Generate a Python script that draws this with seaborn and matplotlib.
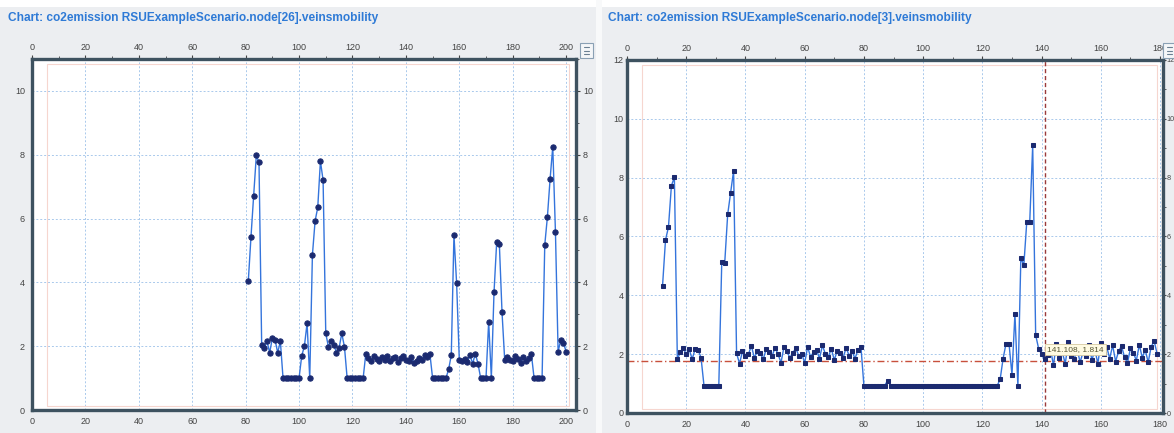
import numpy as np
import pandas as pd
import matplotlib
matplotlib.use("Agg")
import matplotlib.pyplot as plt
from matplotlib.patches import Rectangle
from matplotlib.ticker import MultipleLocator
import seaborn as sns

# node[26]: one sample per second, starting at t=81
left_start = 81
left_co2 = [
    4.05, 5.43, 6.72, 7.98, 7.76,
    2.05, 1.95, 2.15, 1.80, 2.25, 2.20, 1.80, 2.15,
    1.00, 1.00, 1.00, 1.00, 1.00, 1.00, 1.00,
    1.70, 2.00, 2.72, 1.00, 4.86, 5.92, 6.35, 7.80, 7.20,
    2.40, 1.98, 2.15, 2.05, 1.80, 1.95, 2.40, 1.98,
    1.00, 1.00, 1.00, 1.00, 1.00, 1.00, 1.00,
    1.77,
    1.62, 1.55, 1.68, 1.60, 1.52, 1.65, 1.58, 1.70, 1.55, 1.62, 1.66, 1.50,
    1.64, 1.70, 1.58, 1.55, 1.67, 1.48, 1.52, 1.63, 1.58, 1.72, 1.66, 1.75,
    1.00, 1.00, 1.00, 1.00, 1.00, 1.00,
    1.27, 1.72, 5.48, 3.97, 1.57,
    1.55, 1.60, 1.50, 1.72, 1.45, 1.77, 1.45,
    1.00, 1.00, 1.00,
    2.77, 1.00, 3.69, 5.26, 5.20, 3.06, 1.57,
    1.65, 1.58, 1.52, 1.70, 1.60, 1.48, 1.66, 1.55, 1.62, 1.75,
    1.00, 1.00, 1.00, 1.00,
    5.17, 6.06, 7.24, 8.25, 5.59, 1.83, 2.19, 2.10, 1.83,
]

# node[3]: one sample per second, starting at t=12
right_start = 12
right_co2 = [
    4.32, 5.88, 6.32, 7.73, 8.01,
    1.83, 2.06, 2.20, 2.00, 2.17, 1.83, 2.17, 2.15, 1.88,
    0.93, 0.93, 0.93, 0.93, 0.93, 0.93,
    5.13, 5.10, 6.75, 7.49, 8.24, 2.03, 1.68,
    2.10, 1.94, 2.00, 2.28, 1.88, 2.10, 2.03, 1.83, 2.17, 2.07,
    1.94, 2.22, 2.00, 1.71, 2.24, 2.10, 1.88, 2.05, 2.20, 1.95,
    2.02, 1.70, 2.25, 1.90, 2.08, 2.15, 1.85, 2.30, 2.00, 1.92,
    2.18, 1.80, 2.12, 2.05, 1.88, 2.22, 1.95, 2.10, 1.85, 2.15, 2.25,
    0.93, 0.93, 0.93, 0.93, 0.93, 0.93, 0.93, 0.93, 1.10, 0.93,
    0.93, 0.93, 0.93, 0.93, 0.93, 0.93, 0.93, 0.93, 0.93, 0.93,
    0.93, 0.93, 0.93, 0.93, 0.93, 0.93, 0.93, 0.93, 0.93, 0.93,
    0.93, 0.93, 0.93, 0.93, 0.93, 0.93, 0.93, 0.93, 0.93, 0.93,
    0.93, 0.93, 0.93, 0.93, 0.93, 0.93,
    1.14, 1.85, 2.36, 2.36, 1.30, 3.37, 0.91, 5.27, 5.02, 6.50, 6.50, 9.10,
    2.65, 2.19, 2.00, 1.83,
    1.98, 2.19, 1.62, 2.36, 1.88, 2.07, 1.67, 2.43, 1.93, 1.82,
    2.19, 1.72, 2.07, 1.95, 2.30, 1.80, 2.15, 1.68, 2.38, 2.00,
    2.25, 1.85, 2.30, 1.75, 2.10, 2.28, 1.90, 1.70, 2.20, 2.05,
    1.78, 2.32, 1.88, 2.15, 1.72, 2.25, 2.45, 2.02,
]

titles = ["Chart: co2emission RSUExampleScenario.node[26].veinsmobility",
          "Chart: co2emission RSUExampleScenario.node[3].veinsmobility"]
cursor_x, cursor_y = 141.1, 1.77
cursor_text = "141.108, 1.814"

W, H = 1174, 433
def box(l, t, r, b):
    return [l / W, 1 - b / H, (r - l) / W, (b - t) / H]

sns.set_theme(style="white")
plt.rcParams['font.family'] = ['Liberation Sans', 'DejaVu Sans']

fig = plt.figure(figsize=(W / 100, H / 100), dpi=100, facecolor='#eceef1')
# white strips at top and between the two panels
fig.add_artist(Rectangle((0, 1 - 7 / H), 1, 7 / H, transform=fig.transFigure,
                         facecolor='white', edgecolor='none', zorder=0))
fig.add_artist(Rectangle((596 / W, 0), 6 / W, 1, transform=fig.transFigure,
                         facecolor='#f8f9fa', edgecolor='none', zorder=0))

line_col = '#3474dc'
mark_col = '#1b2a70'


def draw_chart(ax, t, v, marker, msize, xmax, ymax, title, tx):
    df = pd.DataFrame({"t": t, "co2": v})
    sns.lineplot(data=df, x="t", y="co2", ax=ax, color=line_col, linewidth=1.0,
                 marker=marker, markersize=msize, markerfacecolor=mark_col,
                 markeredgecolor=mark_col, estimator=None, sort=False, zorder=3)
    ax.set_xlim(0, xmax)
    ax.set_ylim(0, ymax)
    ax.set_xlabel("")
    ax.set_ylabel("")
    ax.set_facecolor('white')
    ax.xaxis.set_major_locator(MultipleLocator(20))
    ax.xaxis.set_minor_locator(MultipleLocator(10))
    ax.yaxis.set_major_locator(MultipleLocator(2))
    ax.yaxis.set_minor_locator(MultipleLocator(1))
    ax.grid(True, which='major', color='#a9c9ec', linestyle=(0, (2, 2)), linewidth=0.7)
    ax.tick_params(which='both', direction='out', top=True, right=True,
                   labeltop=True, labelright=True, colors='#444444',
                   labelsize=6.5, pad=2)
    ax.tick_params(which='major', length=3, width=0.8)
    ax.tick_params(which='minor', length=2, width=0.6)
    for s in ax.spines.values():
        s.set_visible(True)
        s.set_color('#3e5260')
        s.set_linewidth(2.4)
    ax.add_patch(Rectangle((0.028, 0.012), 0.96, 0.975, transform=ax.transAxes,
                           fill=False, edgecolor='#f6d6cf', linewidth=0.8, zorder=1))
    fig.text(tx / W, 1 - 18 / H, title, color='#2e7ad6', fontsize=8.6,
             fontweight='bold', va='center', ha='left')


ax1 = fig.add_axes(box(32, 59, 576, 410))
draw_chart(ax1, np.arange(left_start, left_start + len(left_co2)), left_co2,
           'o', 3.8, 203.7, 11, titles[0], 8)

ax2 = fig.add_axes(box(627, 60, 1163, 413))
draw_chart(ax2, np.arange(right_start, right_start + len(right_co2)), right_co2,
           's', 3.2, 181, 12, titles[1], 608)
# the right hand labels sit right at the figure edge, keep them small
ax2.tick_params(axis='y', which='both', length=2, pad=0.5)
for tick in ax2.yaxis.get_major_ticks():
    tick.label2.set_fontsize(5.2)
ax2.axhline(cursor_y, color='#c8503c', linestyle=(0, (5, 2, 1, 2)), linewidth=1.0, zorder=2)
ax2.axvline(cursor_x, color='#9a3a3a', linestyle=(0, (3, 2)), linewidth=1.0, zorder=2)
ax2.text(cursor_x + 0.8, 2.15, cursor_text, fontsize=6, color='#555533',
         va='center', ha='left', zorder=5,
         bbox=dict(boxstyle='square,pad=0.25', facecolor='#fffbe2', edgecolor='#d6c9a0', linewidth=0.6))

# small chart menu buttons in the top right corners
for bx in (580, 1163):
    fig.add_artist(Rectangle((bx / W, 1 - 58 / H), 13 / W, 15 / H, transform=fig.transFigure,
                             facecolor='#f4f6f8', edgecolor='#8aa0b4', linewidth=0.8))
    for yy in (47, 50.5, 54):
        fig.add_artist(plt.Line2D([(bx + 4) / W, (bx + 9) / W], [1 - yy / H, 1 - yy / H],
                                  transform=fig.transFigure, color='#6a7f92', linewidth=0.8))

fig.savefig("out.png", dpi=100, facecolor=fig.get_facecolor())
